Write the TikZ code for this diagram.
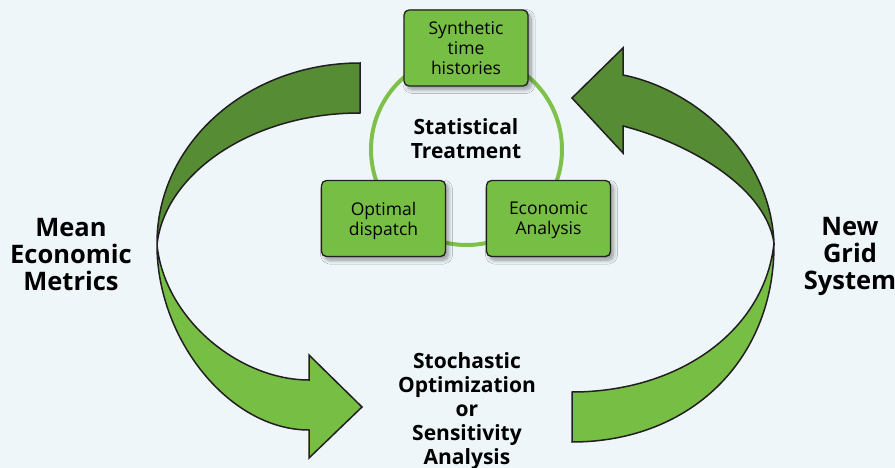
\documentclass[tikz,border=0pt]{standalone}
\usepackage{fontspec}
\setmainfont{Open Sans}
\usetikzlibrary{shadows.blur}
\definecolor{bgblue}{RGB}{239,246,250}
\definecolor{darkleaf}{RGB}{85,140,52}
\definecolor{lightleaf}{RGB}{119,190,68}
\definecolor{ringgreen}{RGB}{125,193,75}
\definecolor{edgeink}{RGB}{35,31,32}
\begin{document}
\begin{tikzpicture}[x=1pt,y=-1pt,
  band/.style={draw=edgeink, line width=1.5pt, line join=miter},
  procbox/.style={draw=edgeink, line width=1.3pt, fill=lightleaf, rounded corners=5pt,
    minimum width=124pt, minimum height=76pt, align=center, inner sep=2pt,
    text depth=0pt, font=\fontsize{17.5}{20}\selectfont,
    blur shadow={shadow xshift=3pt, shadow yshift=-3.5pt, shadow blur radius=4pt,
      shadow blur steps=10, shadow opacity=40}},
  sidelabel/.style={align=center, inner sep=0pt, font=\bfseries\fontsize{25.5}{27}\selectfont},
  midlabel/.style={align=center, inner sep=0pt, font=\bfseries\fontsize{21}{24}\selectfont},
  ringlabel/.style={align=center, inner sep=0pt, font=\bfseries\fontsize{21}{24}\selectfont}
]
% canvas
\fill[bgblue] (0,0) rectangle (895,468);
\useasboundingbox (0,0) rectangle (895,468);

% left ribbon: dark upper half, light lower half ending in an arrow
\draw[band, fill=darkleaf] (360,63) .. controls (247,63) and (156,144) .. (157,245)
  .. controls (164,175) and (250,113) .. (360,113) -- cycle;
\draw[band, fill=lightleaf] (157,245) .. controls (157,340) and (230,430) .. (309,430)
  -- (309,458) -- (362,407) -- (309,355) -- (309,380)
  .. controls (240,380) and (165,320) .. (157,245) -- cycle;

% right ribbon: light lower half, dark upper half ending in an arrow
\draw[band, fill=lightleaf] (774,243) .. controls (775,360) and (690,442) .. (572,442)
  -- (572,392) .. controls (680,392) and (765,330) .. (774,243) -- cycle;
\draw[band, fill=darkleaf] (774,243) .. controls (770,150) and (690,88) .. (623,75)
  -- (623,48) -- (572,98) -- (623,153) -- (623,126)
  .. controls (685,142) and (765,185) .. (774,243) -- cycle;

% statistical treatment cycle
\draw[ringgreen, line width=4pt] (466.5,149.5) circle[radius=95.5pt];
\node[ringlabel] (stat) at (466,138.5) {Statistical\\Treatment};

\node[procbox] (synth) at (466,48) {Synthetic\\time\\histories};
\node[procbox] (disp) at (383.5,218.5) {Optimal\\dispatch};
\node[procbox] (econ) at (548.5,218.5) {Economic\\Analysis};

% outer labels
\node[sidelabel] (mean) at (71,255) {Mean\\Economic\\Metrics};
\node[sidelabel] (grid) at (850,256) {New\\Grid\\System};
\node[midlabel] (stoch) at (467,411) {Stochastic\\Optimization\\or\\Sensitivity\\Analysis};
\end{tikzpicture}
\end{document}
